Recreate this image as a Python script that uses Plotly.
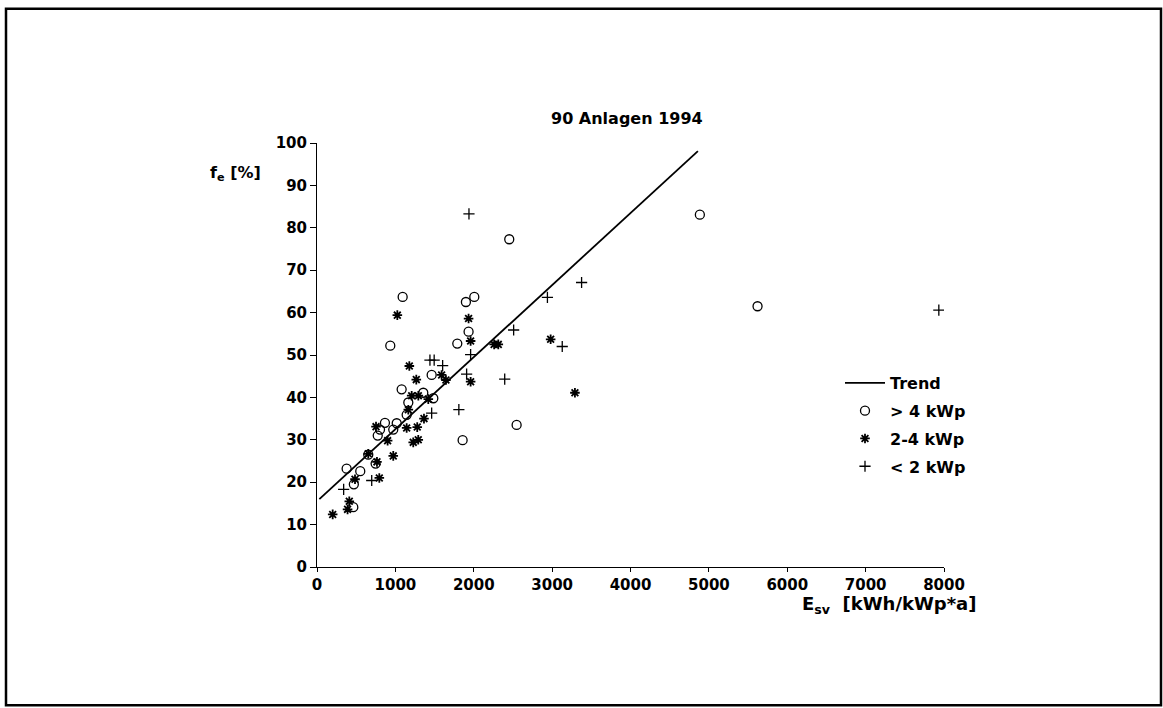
import plotly.graph_objects as go

# Efficiency factor f_e [%] against specific yield E_sv [kWh/kWp*a], 1994 survey
# Plants > 4 kWp
big_x = [1093, 935, 1900, 2007, 1934, 1790, 2453, 4885, 5621, 1463, 1080, 1356,
         1484, 1165, 1144, 2547, 1858, 1017, 973, 867, 804, 775, 654, 748, 378,
         552, 470, 463]
big_y = [63.7, 52.2, 62.5, 63.7, 55.5, 52.7, 77.3, 83.1, 61.5, 45.3, 41.9, 41.1,
         39.8, 38.8, 35.9, 33.5, 29.9, 33.9, 32.4, 34.0, 32.4, 31.0, 26.5, 24.4, 23.2,
         22.6, 19.5, 14.1]

# Plants 2-4 kWp
mid_x = [1025, 1934, 1960, 1178, 1267, 1590, 1645, 1960, 2260, 2313, 2981, 3291,
         1208, 1293, 1420, 1165, 1365, 753, 1144, 1279, 1228, 1292, 901, 654, 973,
         765, 795, 485, 412, 390, 200]
mid_y = [59.4, 58.6, 53.3, 47.4, 44.2, 45.3, 44.1, 43.7, 52.5, 52.5, 53.7, 41.1,
         40.4, 40.4, 39.6, 37.1, 35.0, 33.1, 32.8, 33.0, 29.4, 30.0, 29.8, 26.7, 26.2,
         24.8, 21.0, 20.7, 15.5, 13.6, 12.4]

# Plants < 2 kWp
small_x = [1939, 3376, 2940, 2509, 1960, 3129, 1441, 1495, 1603, 1909, 2395, 1463,
           1810, 698, 340, 7934]
small_y = [83.3, 67.1, 63.6, 55.9, 50.1, 52.0, 48.8, 48.8, 47.5, 45.5, 44.3, 36.3,
           37.1, 20.4, 18.3, 60.6]

# Linear trend
trend_x = [30, 4860]
trend_y = [16.0, 98.1]

x_ticks = [0, 1000, 2000, 3000, 4000, 5000, 6000, 7000, 8000]
y_ticks = [0, 10, 20, 30, 40, 50, 60, 70, 80, 90, 100]

FONT = "DejaVu Sans"

fig = go.Figure()
fig.add_trace(go.Scatter(
    x=trend_x, y=trend_y, mode="lines", name="Trend",
    line=dict(color="black", width=1.8), legendgroup="a"))
fig.add_trace(go.Scatter(
    x=big_x, y=big_y, mode="markers", name="> 4 kWp", legendgroup="b",
    marker=dict(symbol="circle-open", size=9, color="black", line=dict(width=1.3))))
fig.add_trace(go.Scatter(
    x=mid_x, y=mid_y, mode="markers", name="2-4 kWp", legendgroup="c",
    marker=dict(symbol="asterisk-open", size=8, color="black", line=dict(width=1.8))))
fig.add_trace(go.Scatter(
    x=small_x, y=small_y, mode="markers", name="< 2 kWp", legendgroup="d",
    marker=dict(symbol="cross-thin-open", size=8, color="black", line=dict(width=1.3))))

W, H = 1163, 708
L, R, T, B = 317, 944, 142.5, 567.5
pw, ph = R - L, B - T


def px(x):
    return (x - L) / pw


def py(y):
    return (B - y) / ph


fig.update_layout(
    width=W, height=H,
    margin=dict(l=L, r=W - R, t=T, b=H - B, pad=0),
    paper_bgcolor="white", plot_bgcolor="white",
    font=dict(family=FONT, color="black"),
    showlegend=True,
    legend=dict(
        x=px(840), y=py(366), xanchor="left", yanchor="top",
        font=dict(family=FONT, size=16, weight="bold", color="black"),
        bgcolor="rgba(0,0,0,0)", tracegroupgap=4, itemwidth=40,
        traceorder="grouped"),
    xaxis=dict(
        range=[0, 8000], tickvals=x_ticks, ticks="outside", ticklen=4,
        tickwidth=1, tickcolor="black", showline=True, linecolor="black",
        linewidth=1, showgrid=False, zeroline=False,
        tickfont=dict(family=FONT, size=15, weight="bold")),
    yaxis=dict(
        range=[0, 100], tickvals=y_ticks, ticks="outside", ticklen=6,
        tickwidth=1, tickcolor="black", showline=True, linecolor="black",
        linewidth=1, showgrid=False, zeroline=False,
        tickfont=dict(family=FONT, size=15, weight="bold")),
    annotations=[
        dict(text="<b>90 Anlagen 1994</b>", x=px(627), y=py(118),
             xref="paper", yref="paper", showarrow=False,
             xanchor="center", yanchor="middle", font=dict(size=16)),
        dict(text="<b>f<sub>e</sub> [%]</b>", x=px(263), y=py(173),
             xref="paper", yref="paper", showarrow=False,
             xanchor="right", yanchor="middle", font=dict(size=16)),
        dict(text="<b>E<sub>sv</sub>  [kWh/kWp*a]</b>", x=px(979), y=py(606),
             xref="paper", yref="paper", showarrow=False,
             xanchor="right", yanchor="middle", font=dict(size=18)),
    ],
    shapes=[
        dict(type="rect", xref="paper", yref="paper",
             x0=px(6), x1=px(1161), y0=py(706), y1=py(8),
             line=dict(color="black", width=2.5), fillcolor="rgba(0,0,0,0)"),
    ],
)

fig.write_html("out.html")
